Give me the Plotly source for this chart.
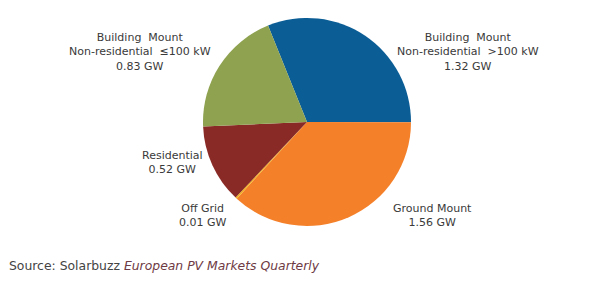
import plotly.graph_objects as go

categories = [
    "Building&nbsp; Mount<br>Non-residential&nbsp; >100 kW",
    "Ground Mount",
    "Off Grid",
    "Residential",
    "Building&nbsp; Mount<br>Non-residential&nbsp; \u2264100 kW",
]
values_gw = [1.32, 1.56, 0.01, 0.52, 0.83]
colors = ["#0b5d96", "#f5802a", "#f2b21c", "#8a2a26", "#8ea24f"]

# label anchor positions (pixels from top-left of 600x284 canvas)
label_pos = [(468, 52), (432, 215), (203, 215), (172, 162), (140, 52)]

W, H = 600, 284
cx, cy, r = 307, 122, 104

fig = go.Figure(go.Pie(
    labels=categories,
    values=values_gw,
    marker=dict(colors=colors, line=dict(width=0)),
    sort=False,
    direction="clockwise",
    rotation=-22,
    textinfo="none",
    hoverinfo="label+value",
    showlegend=False,
    domain=dict(x=[(cx - r) / W, (cx + r) / W], y=[1 - (cy + r) / H, 1 - (cy - r) / H]),
))

for lab, val, (px, py) in zip(categories, values_gw, label_pos):
    fig.add_annotation(
        x=px / W, y=1 - py / H, xref="paper", yref="paper",
        text=f"{lab}<br>{val:.2f}&nbsp;GW", showarrow=False,
        xanchor="center", yanchor="middle",
        font=dict(family="DejaVu Sans", size=11, color="#3a3a3a"),
    )

fig.add_annotation(
    x=7 / W, y=1 - 265 / H, xref="paper", yref="paper",
    text="Source: Solarbuzz <i><span style='color:#6e3a44'>European PV Markets Quarterly</span></i>",
    showarrow=False, xanchor="left", yanchor="middle",
    font=dict(family="DejaVu Sans", size=12.4, color="#444444"),
)

fig.update_layout(
    width=W, height=H,
    margin=dict(l=0, r=0, t=0, b=0),
    paper_bgcolor="white", plot_bgcolor="white",
)

fig.write_html("out.html")
